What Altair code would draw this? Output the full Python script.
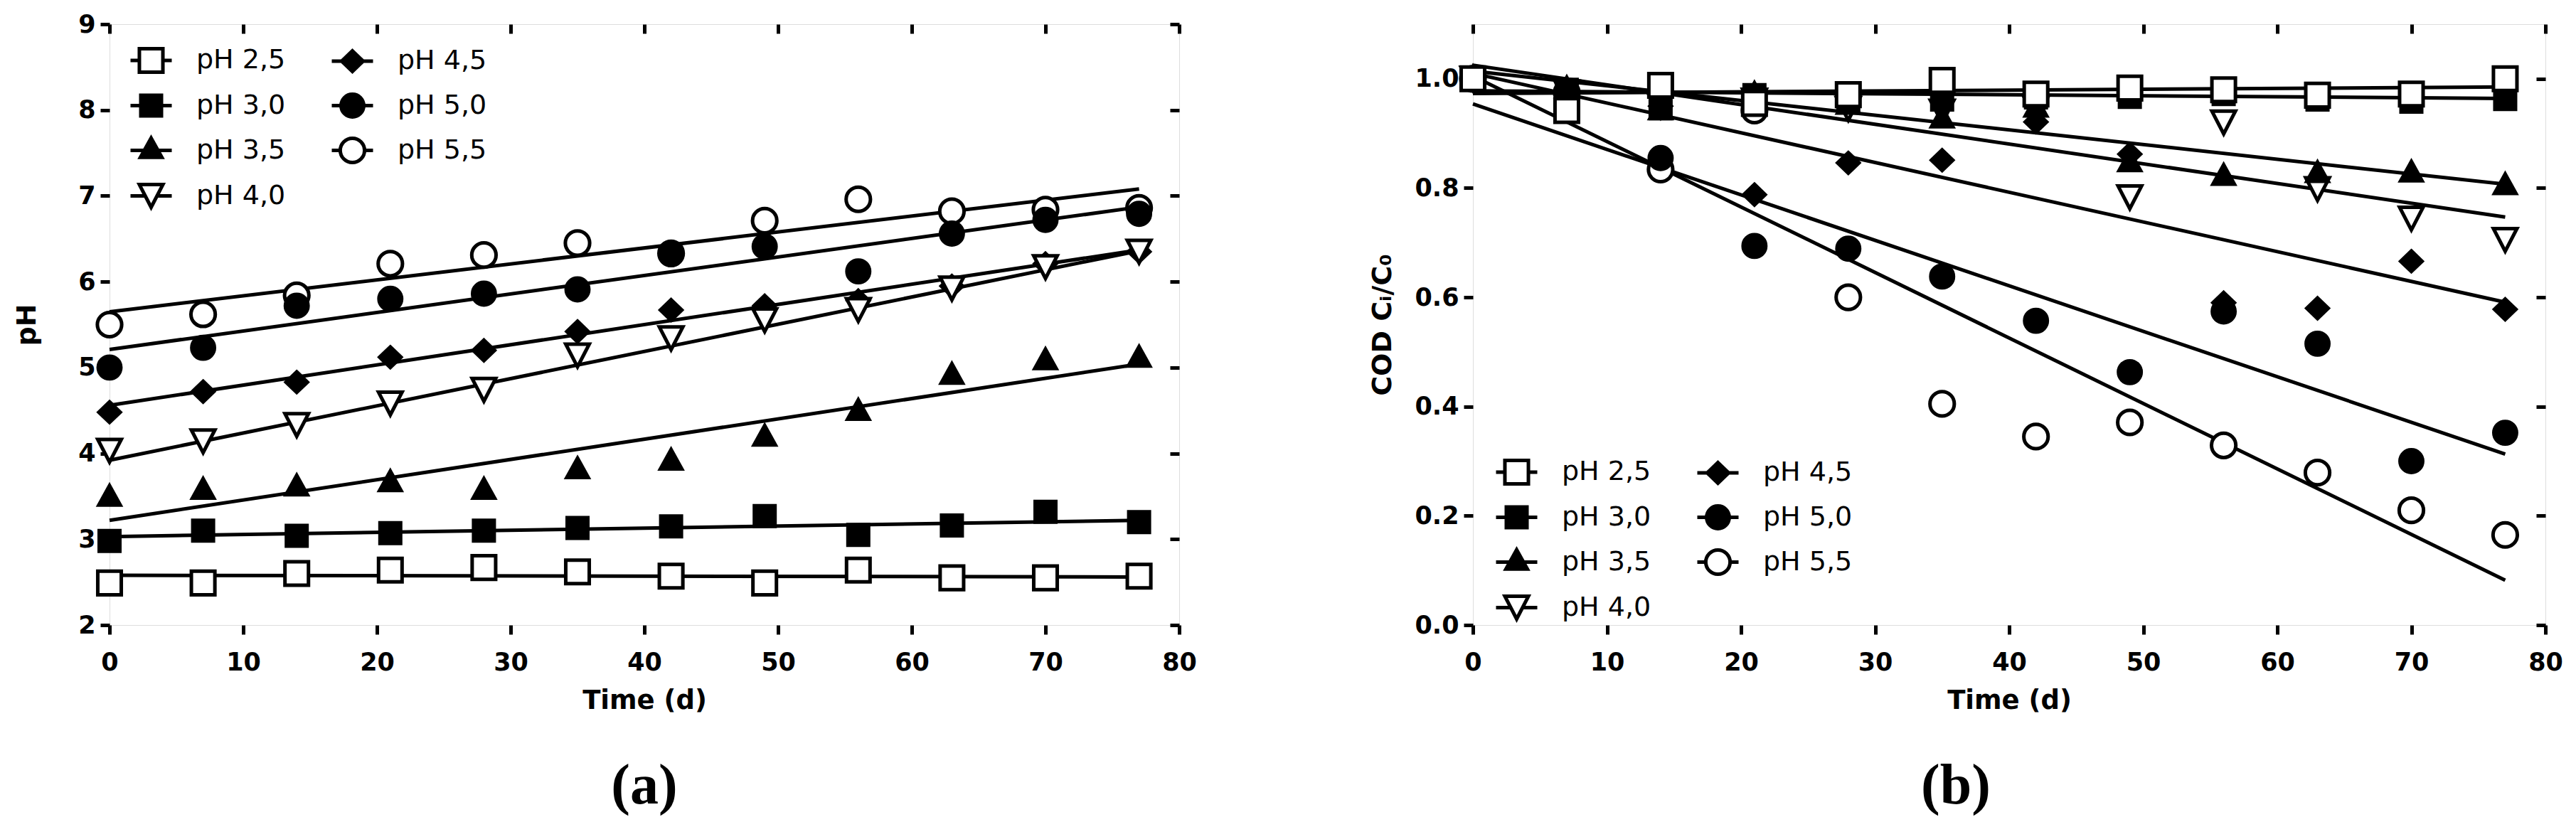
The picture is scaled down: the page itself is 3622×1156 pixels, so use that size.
import altair as alt
import pandas as pd

# ---------------- data ----------------
TIME = [0, 7, 14, 21, 28, 35, 42, 49, 56, 63, 70, 77]
SERIES = ["pH 2,5", "pH 3,0", "pH 3,5", "pH 4,0", "pH 4,5", "pH 5,0", "pH 5,5"]

# panel (a): pH over time
A_25 = [2.49, 2.49, 2.60, 2.64, 2.67, 2.62, 2.57, 2.49, 2.64, 2.55, 2.55, 2.57]
A_30 = [2.98, 3.10, 3.04, 3.07, 3.10, 3.13, 3.15, 3.27, 3.05, 3.16, 3.32, 3.20]
A_35 = [3.48, 3.56, 3.60, 3.65, 3.56, 3.80, 3.90, 4.18, 4.48, 4.90, 5.07, 5.10]
A_40 = [4.03, 4.14, 4.33, 4.58, 4.74, 5.14, 5.34, 5.55, 5.67, 5.92, 6.17, 6.35]
A_45 = [4.48, 4.72, 4.83, 5.12, 5.20, 5.42, 5.67, 5.72, 5.78, 5.95, 6.21, 6.35]
A_50 = [5.00, 5.23, 5.72, 5.80, 5.86, 5.91, 6.32, 6.41, 6.12, 6.56, 6.72, 6.79]
A_55 = [5.50, 5.62, 5.84, 6.21, 6.31, 6.45, 6.33, 6.71, 6.96, 6.82, 6.84, 6.86]
# fitted lines (value at day 0, value at day 77)
FIT_A_START = [2.58, 3.03, 3.22, 3.92, 4.56, 5.21, 5.65]
FIT_A_END = [2.56, 3.22, 5.04, 6.36, 6.37, 6.87, 7.08]

# panel (b): COD Ci/C0 over time
B_25 = [1.000, 0.942, 0.988, 0.955, 0.971, 0.997, 0.972, 0.983, 0.980, 0.970, 0.972, 1.000]
B_30 = [1.000, 0.980, 0.946, 0.970, 0.962, 0.962, 0.966, 0.967, 0.972, 0.962, 0.958, 0.963]
B_35 = [1.000, 0.980, 0.940, 0.970, 0.950, 0.925, 0.945, 0.845, 0.820, 0.825, 0.826, 0.803]
B_40 = [1.000, 0.975, 0.950, 0.960, 0.945, 0.940, 0.945, 0.783, 0.920, 0.798, 0.744, 0.705]
B_45 = [1.000, 0.975, 0.950, 0.788, 0.846, 0.851, 0.921, 0.862, 0.590, 0.580, 0.666, 0.578]
B_50 = [1.000, 0.975, 0.855, 0.694, 0.689, 0.638, 0.557, 0.463, 0.574, 0.515, 0.300, 0.352]
B_55 = [1.000, 0.975, 0.834, 0.942, 0.600, 0.405, 0.345, 0.371, 0.329, 0.279, 0.210, 0.165]
FIT_B_START = [0.973, 0.978, 1.014, 1.025, 1.010, 0.954, 1.005]
FIT_B_END = [0.985, 0.964, 0.807, 0.747, 0.591, 0.313, 0.082]

FIT_T = [0, 77]
X_TICKS = [0, 10, 20, 30, 40, 50, 60, 70, 80]
A_Y_TICKS = [2, 3, 4, 5, 6, 7, 8, 9]
B_Y_TICKS = [0.0, 0.2, 0.4, 0.6, 0.8, 1.0]

# ---------------- marker shapes (unit box, scaled by size) ----------------
def circ(r):
    return f"M{-r},0A{r},{r} 0 1,1 {r},0A{r},{r} 0 1,1 {-r},0Z"

MARKERS = {
    "pH 2,5": "M-0.57,-0.57H0.57V0.57H-0.57Z",
    "pH 3,0": "M-0.5,-0.5H0.5V0.5H-0.5Z",
    "pH 3,5": "M0,-0.6L0.52,0.34L-0.52,0.34Z",
    "pH 4,0": "M-0.57,-0.55H0.57L0,0.55Z",
    "pH 4,5": "M0,-0.5L0.52,0L0,0.5L-0.52,0Z",
    "pH 5,0": circ(0.55),
    "pH 5,5": circ(0.59),
}
GAPS = {
    "pH 2,5": 0.57, "pH 3,0": 0.5, "pH 3,5": 0.3, "pH 4,0": 0.285,
    "pH 4,5": 0.52, "pH 5,0": 0.55, "pH 5,5": 0.59,
}
FILLS = {
    "pH 2,5": "white", "pH 3,0": "black", "pH 3,5": "black", "pH 4,0": "white",
    "pH 4,5": "black", "pH 5,0": "black", "pH 5,5": "white",
}
LEGEND_PATHS = {s: f"M-1,0H{-GAPS[s]}M{GAPS[s]},0H1" + MARKERS[s] for s in SERIES}

SIZE = 3364
FONT = "DejaVu Sans"


def make_frames(values, fit_start, fit_end):
    pts = []
    for s, vals in reversed(list(zip(SERIES, values))):
        for t, v in zip(TIME, vals):
            pts.append({"s": s, "t": t, "v": v})
    lines = []
    for s, a, b in zip(SERIES, fit_start, fit_end):
        for t, v in zip(FIT_T, [a, b]):
            lines.append({"s": s, "t": t, "v": v})
    return pd.DataFrame(pts), pd.DataFrame(lines)


def panel(values, fit_start, fit_end, ydom, yticks, yfmt, ytitle, ytitlepad,
          legx, legy, label, labeldx, width):
    pts, lines = make_frames(values, fit_start, fit_end)
    xs = alt.Scale(domain=[0, 80], nice=False, zero=False)
    ys = alt.Scale(domain=ydom, nice=False, zero=False)

    common = dict(tickColor="black", tickWidth=5, tickSize=13, domain=False, grid=False)
    bottom = alt.Axis(orient="bottom", values=X_TICKS, format="d",
                      labelFont=FONT, labelFontSize=35, labelFontWeight="bold",
                      labelColor="black", labelPadding=22, labelFlush=False,
                      titleFont=FONT, titleFontSize=37, titleFontWeight="bold",
                      titleColor="black", titlePadding=18, **common)
    left = alt.Axis(orient="left", values=yticks, format=yfmt,
                    labelFont=FONT, labelFontSize=35, labelFontWeight="bold",
                    labelColor="black", labelPadding=7, labelFlush=False,
                    titleFont=FONT, titleFontSize=38, titleFontWeight="bold",
                    titleColor="black", titlePadding=ytitlepad, **common)
    top = alt.Axis(orient="top", values=X_TICKS, labels=False, offset=-13, **common)
    right = alt.Axis(orient="right", values=yticks, labels=False, offset=-13, **common)

    line_layer = alt.Chart(lines).mark_line(color="black", strokeWidth=5).encode(
        x=alt.X("t:Q", scale=xs, axis=bottom, title="Time (d)"),
        y=alt.Y("v:Q", scale=ys, axis=left, title=ytitle),
        detail="s:N",
    )
    point_layer = alt.Chart(pts).mark_point(
        stroke="black", strokeWidth=5, opacity=1, size=SIZE
    ).encode(
        x=alt.X("t:Q", scale=xs, axis=top, title=None),
        y=alt.Y("v:Q", scale=ys, axis=right, title=None),
        shape=alt.Shape("s:N", scale=alt.Scale(domain=SERIES, range=[MARKERS[s] for s in SERIES]), legend=None),
        fill=alt.Fill("s:N", scale=alt.Scale(domain=SERIES, range=[FILLS[s] for s in SERIES]), legend=None),
    )
    leg = alt.Legend(title=None, orient="none", legendX=legx, legendY=legy, columns=2,
                     symbolSize=SIZE, symbolStrokeWidth=5, symbolStrokeColor="black",
                     symbolOpacity=1, labelFont=FONT, labelFontSize=38, labelColor="black",
                     labelOffset=32, columnPadding=54, rowPadding=5, padding=0,
                     labelLimit=0)
    legend_layer = alt.Chart(pts).transform_filter("datum.t < 0").mark_point(
        strokeWidth=5, opacity=1, size=SIZE
    ).encode(
        x=alt.X("t:Q", scale=xs, axis=None),
        y=alt.Y("v:Q", scale=ys, axis=None),
        shape=alt.Shape("s:N", scale=alt.Scale(domain=SERIES, range=[LEGEND_PATHS[s] for s in SERIES]), legend=leg),
        fill=alt.Fill("s:N", scale=alt.Scale(domain=SERIES, range=[FILLS[s] for s in SERIES]), legend=leg),
        stroke=alt.Stroke("s:N", scale=alt.Scale(domain=SERIES, range=["black"] * len(SERIES)), legend=leg),
    )
    return alt.layer(line_layer, point_layer, legend_layer).resolve_scale(
        shape="independent", fill="independent", stroke="independent"
    ).resolve_axis(x="independent", y="independent").properties(
        width=width, height=845,
        title=alt.TitleParams(text=label, orient="bottom", anchor="middle", dx=labeldx,
                              font="Liberation Serif", fontSize=80, fontWeight="bold",
                              color="black", offset=64),
    )


pa = panel([A_25, A_30, A_35, A_40, A_45, A_50, A_55], FIT_A_START, FIT_A_END,
           [2, 9], A_Y_TICKS, "d", "pH", 52, 27, 19, "(a)", 0, 1504)
pb = panel([B_25, B_30, B_35, B_40, B_45, B_50, B_55], FIT_B_START, FIT_B_END,
           [0, 1.1], B_Y_TICKS, ".1f", "COD Cᵢ/C₀", 25, 30, 598, "(b)", -75, 1508)

chart = alt.hconcat(pa, pb, spacing=413, bounds="flush").resolve_scale(
    shape="independent", fill="independent", stroke="independent"
).configure_view(stroke="black", strokeWidth=6).configure(
    background="white", padding={"left": 11, "top": 8, "right": 5, "bottom": 5}
)

chart.save("out.html", embed_options={"renderer": "svg", "actions": False})
